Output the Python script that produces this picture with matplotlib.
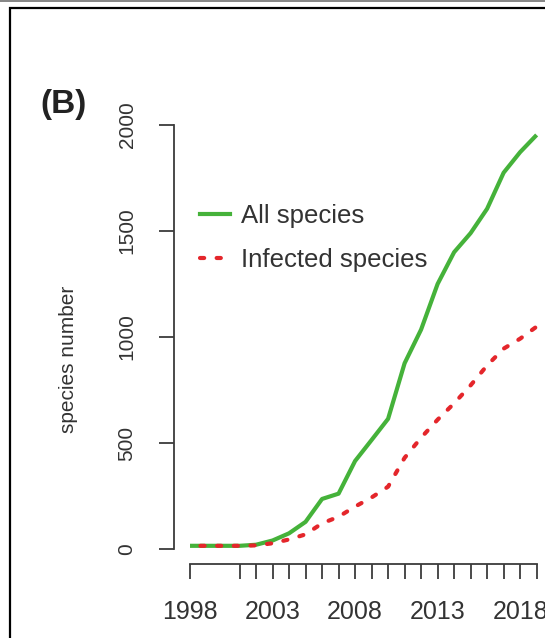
import matplotlib.pyplot as plt
from matplotlib.patches import Rectangle
from matplotlib.lines import Line2D

plt.rcParams['font.family'] = ['Liberation Sans', 'DejaVu Sans']

# Data
years = [1998, 2001, 2002, 2003, 2004, 2005, 2006, 2007, 2008, 2009,
         2010, 2011, 2012, 2013, 2014, 2015, 2016, 2017, 2018, 2019]
all_species = [15, 15, 20, 40, 74, 128, 236, 261, 415, 514,
               614, 876, 1035, 1250, 1400, 1490, 1605, 1775, 1872, 1953]
infected_species = [15, 15, 17, 27, 45, 69, 121, 152, 200, 243,
                    294, 430, 525, 610, 687, 772, 866, 945, 992, 1049]
x_labels = ["1998", "2003", "2008", "2013", "2018"]
y_ticks = [0, 500, 1000, 1500, 2000]

W, H = 545, 638
fig = plt.figure(figsize=(W / 100, H / 100), dpi=100)

# frame around the panel (cut off on right and bottom)
fig.patches.append(Rectangle((10 / W, -0.1), 1.2, 1 - 8 / H + 0.1,
                             transform=fig.transFigure, fill=False,
                             edgecolor='black', linewidth=1.6))
fig.patches.append(Rectangle((0, 1 - 2 / H), 1, 2 / H, transform=fig.transFigure,
                             facecolor='#888888', edgecolor='none'))

ax = fig.add_axes([174 / W, 1 - 564 / H, 377 / W, 446 / H])
ax.set_xlim(1997.03, 2019.87)
ax.set_ylim(-70.8, 2033)

green = '#45b23a'
red = '#e4262b'
ax.plot(years, all_species, color=green, lw=3.0, solid_capstyle='butt')
ax.plot(years, infected_species, color=red, lw=3.0, linestyle=(1.5, (1, 3)),
        dash_capstyle='round')

for s in ['top', 'right']:
    ax.spines[s].set_visible(False)
axis_col = '#3c3c3c'
ax.spines['left'].set_bounds(0, 2000)
ax.spines['bottom'].set_bounds(1998, 2019)
ax.spines['left'].set_color(axis_col)
ax.spines['bottom'].set_color(axis_col)
ax.spines['left'].set_linewidth(1.3)
ax.spines['bottom'].set_linewidth(1.3)

ax.set_xticks(years)
ax.set_xticklabels([str(y) if str(y) in x_labels else "" for y in years])
ax.set_yticks(y_ticks)
ax.set_yticklabels([str(v) for v in y_ticks], rotation=90, va='center')
ax.tick_params(axis='x', length=11, width=1.3, color=axis_col, pad=15,
               labelsize=18, labelcolor='#333333')
ax.tick_params(axis='y', length=11, width=1.3, color=axis_col, pad=16,
               labelsize=15, labelcolor='#333333')

fig.text(68 / W, 1 - 359 / H, "species number", rotation=90, ha='center',
         va='center', fontsize=15, color='#333333')
fig.text(64 / W, 1 - 104 / H, "(B)", ha='center', va='center',
         fontsize=24, fontweight='bold', color='#222222')

handles = [Line2D([], [], color=green, lw=3.0),
           Line2D([], [], color=red, lw=3.0, linestyle=(0, (1, 3)),
                  dash_capstyle='round')]
ax.legend(handles, ["All species", "Infected species"], loc='upper left',
          bbox_to_anchor=((200 - 174) / 377, (564 - 204) / 446),
          borderpad=0, borderaxespad=0,
          frameon=False, fontsize=18.5, handlelength=1.15, handletextpad=0.45,
          labelspacing=0.78, labelcolor='#333333')

fig.savefig("out.png", dpi=100)
